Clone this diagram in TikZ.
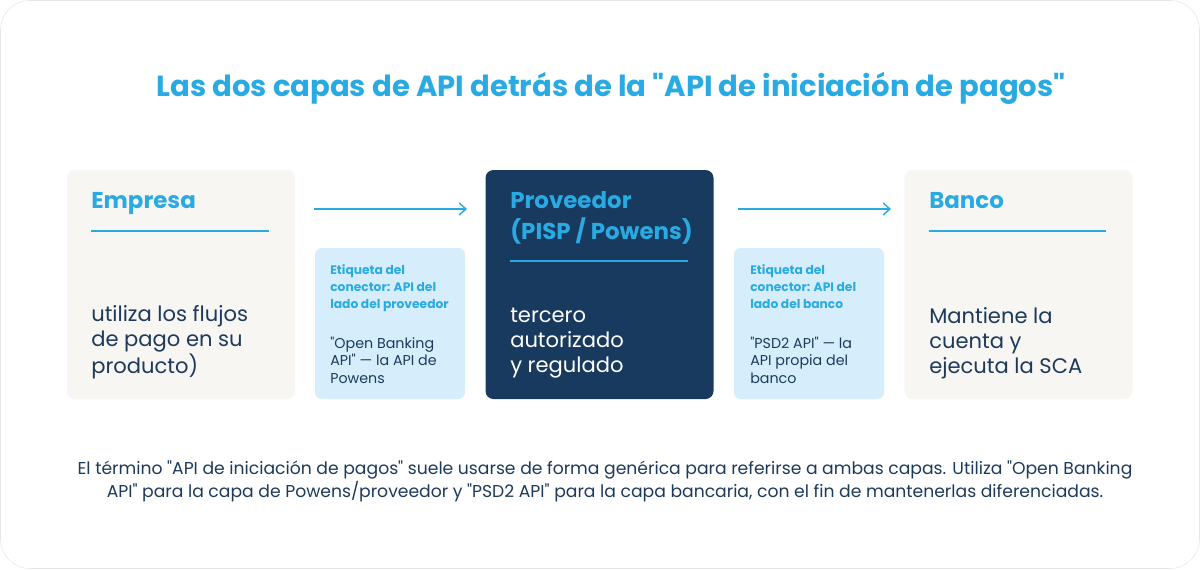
\documentclass[tikz,border=0pt]{standalone}
\usepackage{fontspec}
\setmainfont{Poppins}[Ligatures=TeXOff]
\usetikzlibrary{arrows.meta}
\definecolor{cardline}{HTML}{E6E6E6}
\definecolor{tblue}{HTML}{2AAAE2}
\definecolor{navy}{HTML}{173A5E}
\definecolor{ink}{HTML}{1D3A5C}
\definecolor{beige}{HTML}{F8F6F2}
\definecolor{lblue}{HTML}{D6EEFB}
\tikzset{
  card/.style={rounded corners=6pt, minimum width=171pt, minimum height=171.75pt, inner sep=0pt, draw=none},
  lbox/.style={rounded corners=5pt, fill=lblue, minimum width=112.5pt, minimum height=113.25pt, inner sep=0pt},
  head/.style={anchor=base west, inner sep=0pt, text=tblue, font=\fontsize{17.2}{23.25}\selectfont\bfseries, align=left},
  body/.style={anchor=base west, inner sep=0pt, font=\fontsize{15.8}{18.75}\selectfont, align=left},
  lhead/.style={anchor=base west, inner sep=0pt, text=tblue, font=\fontsize{9.2}{12.5}\selectfont\bfseries, align=left},
  lbody/.style={anchor=base west, inner sep=0pt, text=ink, font=\fontsize{10.7}{13.1}\selectfont, align=left},
  rule/.style={draw=tblue, line width=1.5pt},
  flow/.style={draw=tblue, line width=1.1pt, -{Straight Barb[length=5pt,width=9pt]}},
}
\begin{document}
\begin{tikzpicture}[x=0.75pt,y=-0.75pt]
\useasboundingbox (0,0) rectangle (1200,569);
\draw[draw=cardline, fill=white, rounded corners=22pt] (0.5,0.5) rectangle (1199.5,568.5);

\node[inner sep=0pt, text=tblue, font=\fontsize{21.8}{26}\selectfont\bfseries] (title) at (611,88) {Las dos capas de API detrás de la "API de iniciación de pagos"};

% main boxes
\node[card, fill=beige] (emp) at (181,284.5) {};
\node[card, fill=navy] (prov) at (599.5,284.5) {};
\node[card, fill=beige] (banco) at (1018.5,284.5) {};
% label boxes
\node[lbox] (l1) at (390,323.5) {};
\node[lbox] (l2) at (809,323.5) {};

% headers (base anchor = last line baseline)
\node[head] (emph) at (91,208) {Empresa};
\draw[rule] (91,231) coordinate (e1) -- (269,231) coordinate (e2);
\node[head] (provh) at (510,239) {Proveedor\\(PISP / Powens)};
\draw[rule] (510,261) coordinate (p1) -- (688,261) coordinate (p2);
\node[head] (bancoh) at (929,208) {Banco};
\draw[rule] (929,231) coordinate (b1) -- (1106,231) coordinate (b2);

% bodies
\node[body, text=ink] (empb) at (91,373) {utiliza los flujos\\de pago en su\\producto)};
\node[body, text=white] (provb) at (510,372) {tercero\\autorizado\\y regulado};
\node[body, text=ink] (bancob) at (929,373) {Mantiene la\\cuenta y\\ejecuta la SCA};

% label texts
\node[lhead] (l1h) at (330,308) {Etiqueta del\\conector: API del\\lado del proveedor};
\node[lbody] (l1b) at (330,383) {"Open Banking\\API" — la API de\\Powens};
\node[lhead] (l2h) at (750,308) {Etiqueta del\\conector: API del\\lado del banco};
\node[lbody] (l2b) at (750,383) {"PSD2 API" — la\\API propia del\\banco};

% arrows
\coordinate (a1s) at (314,209);
\coordinate (a1e) at (467,209);
\coordinate (a2s) at (738,209);
\coordinate (a2e) at (891,209);
\draw[flow] (a1s) -- (a1e);
\draw[flow] (a2s) -- (a2e);

% footer
\node[inner sep=0pt, text=ink, align=center, font=\fontsize{12.9}{17.25}\selectfont] (foot) at (605,481) {El término "API de iniciación de pagos" suele usarse de forma genérica para referirse a ambas capas. Utiliza "Open Banking\\API" para la capa de Powens/proveedor y "PSD2 API" para la capa bancaria, con el fin de mantenerlas diferenciadas.};
\end{tikzpicture}
\end{document}
